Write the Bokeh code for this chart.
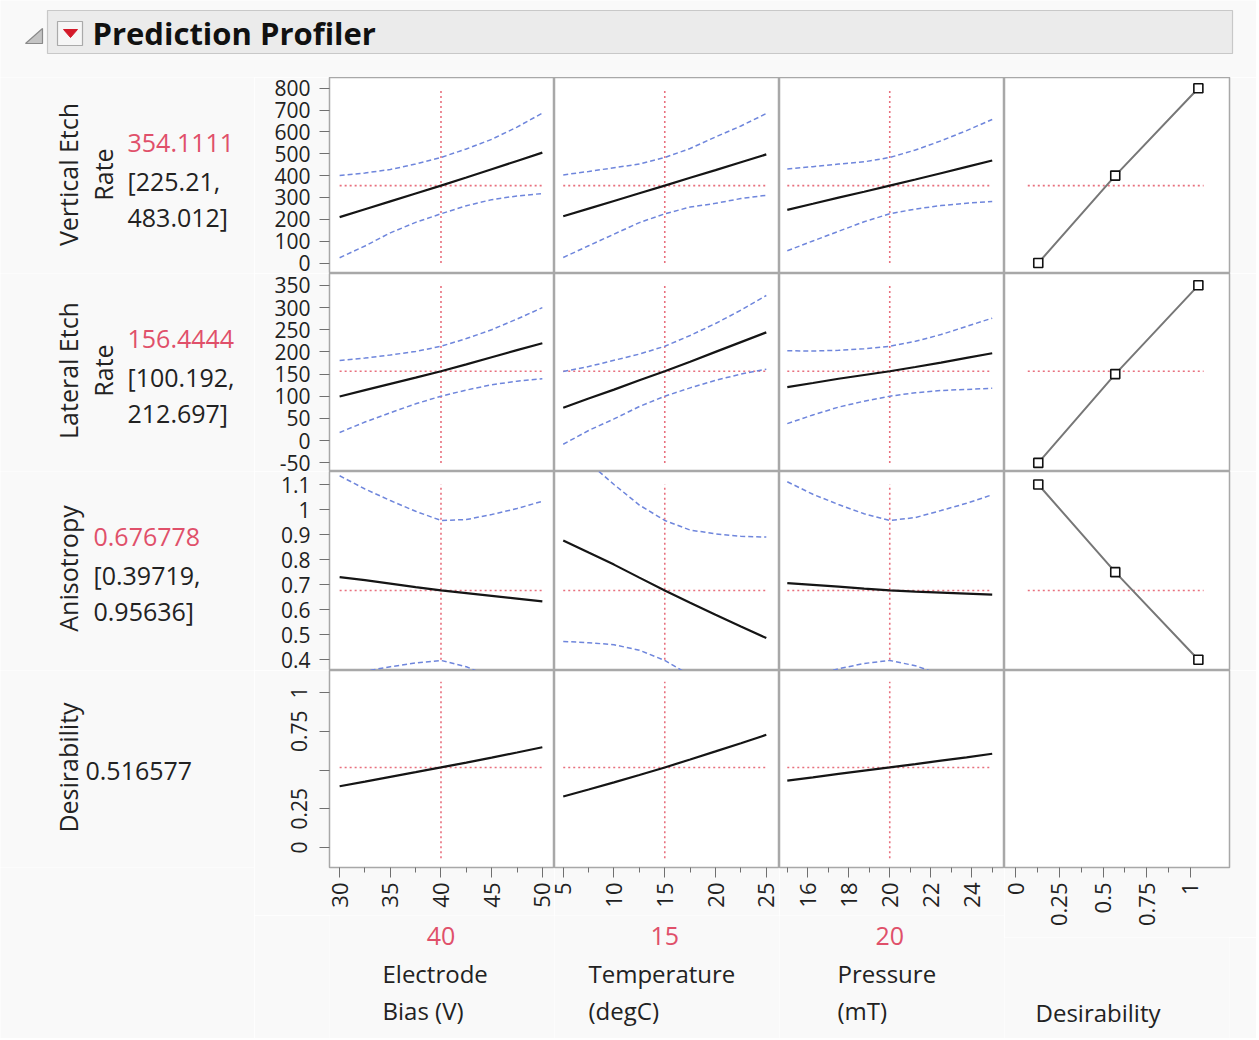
from math import pi
from bokeh.plotting import figure
from bokeh.layouts import column, row
from bokeh.models import FixedTicker, Range1d
from bokeh.embed import file_html
from bokeh.resources import INLINE
from bokeh.core.properties import value

FONT = "Open Sans"
RED = "#e0506a"
REDLINE = "#e8707e"
BLUE = "#6f86dc"
BG = "#f9f9f9"
GRID = "#a8a8a8"

# ---------------- data ----------------
factor_lines = [["Electrode", "Bias (V)"], ["Temperature", "(degC)"], ["Pressure", "(mT)"]]
factor_current = [40, 15, 20]
bias_x = [30, 32.5, 35, 37.5, 40, 42.5, 45, 47.5, 50]
temp_x = [5, 7.5, 10, 12.5, 15, 17.5, 20, 22.5, 25]
pres_x = [15, 16.25, 17.5, 18.75, 20, 21.25, 22.5, 23.75, 25]

resp_titles = [["Vertical Etch", "Rate"], ["Lateral Etch", "Rate"], ["Anisotropy"], ["Desirability"]]
resp_current = [354.1111, 156.4444, 0.676778, 0.516577]
resp_current_text = ["354.1111", "156.4444", "0.676778", "0.516577"]
resp_ci_text = [["[225.21,", "483.012]"], ["[100.192,", "212.697]"], ["[0.39719,", "0.95636]"], []]

# Vertical Etch Rate
vert_bias_pred = [210, 246, 282, 318, 354.1, 391, 429, 467, 505]
vert_bias_hi = [400, 412, 428, 453, 483.0, 522, 566, 622, 686]
vert_bias_lo = [24, 78, 138, 186, 225.2, 262, 290, 307, 318]
vert_temp_pred = [214, 249, 284, 319, 354.1, 390, 425, 461, 497]
vert_temp_hi = [403, 419, 436, 453, 483.0, 524, 577, 627, 684]
vert_temp_lo = [25, 79, 132, 185, 225.2, 256, 273, 295, 310]
vert_pres_pred = [243, 271, 299.5, 326, 354.1, 382, 411, 440, 469]
vert_pres_hi = [430, 441, 453, 463, 483.0, 517, 559, 606, 657]
vert_pres_lo = [56, 101, 145, 189, 225.2, 247, 263, 274, 281]

# Lateral Etch Rate
lat_bias_pred = [99.5, 114, 128, 142, 156.4, 172, 188, 204, 219.6]
lat_bias_hi = [180.5, 186, 193, 201, 212.7, 230, 250, 274, 299.6]
lat_bias_lo = [18.5, 42, 63, 83, 100.2, 114, 126, 134, 139.6]
lat_temp_pred = [74, 95, 115, 136, 156.4, 178, 200, 222, 244]
lat_temp_hi = [156, 167, 181, 195, 212.7, 237, 264, 294, 327]
lat_temp_lo = [-8, 23, 49, 77, 100.2, 119, 136, 150, 161]
lat_pres_pred = [120.5, 130, 139.6, 148, 156.4, 166, 176, 186.5, 197]
lat_pres_hi = [202.5, 202, 203.6, 207, 212.7, 224, 239, 257.5, 276]
lat_pres_lo = [38.5, 58, 75.6, 89, 100.2, 108, 113, 115.5, 118]

# Anisotropy
ani_bias_pred = [0.730, 0.718, 0.704, 0.690, 0.6768, 0.666, 0.655, 0.644, 0.633]
ani_bias_hi = [1.135, 1.082, 1.036, 0.993, 0.9564, 0.96, 0.98, 1.004, 1.033]
ani_bias_lo = [0.325, 0.354, 0.372, 0.387, 0.3972, 0.372, 0.33, 0.284, 0.233]
ani_temp_pred = [0.8766, 0.828, 0.78, 0.728, 0.6768, 0.628, 0.58, 0.533, 0.4866]
ani_temp_hi = [1.281, 1.188, 1.10, 1.018, 0.9564, 0.918, 0.903, 0.893, 0.890]
ani_temp_lo = [0.473, 0.468, 0.46, 0.438, 0.3972, 0.338, 0.257, 0.173, 0.084]
ani_pres_pred = [0.706, 0.699, 0.692, 0.684, 0.6768, 0.672, 0.668, 0.664, 0.66]
ani_pres_hi = [1.111, 1.061, 1.02, 0.983, 0.9564, 0.968, 0.996, 1.025, 1.059]
ani_pres_lo = [0.301, 0.337, 0.364, 0.385, 0.3972, 0.376, 0.34, 0.303, 0.261]

# Desirability
des_bias = [0.395, 0.425, 0.456, 0.486, 0.5166, 0.548, 0.58, 0.613, 0.647]
des_temp = [0.329, 0.374, 0.42, 0.468, 0.5166, 0.568, 0.62, 0.673, 0.727]
des_pres = [0.432, 0.453, 0.475, 0.496, 0.5166, 0.538, 0.56, 0.582, 0.605]

# Desirability functions (desirability vs response value)
des_fn_x = [0.13, 0.57, 1.045]
vert_des_resp = [0, 400, 800]
lat_des_resp = [-50, 150, 350]
ani_des_resp = [1.1, 0.75, 0.4]
des_fn_span = [0.07, 1.075]

# extent of the red cursor lines along each response axis
cursor_span = [[0, 800], [-50, 350], [0.4, 1.1], [-0.07, 1.07]]

# tick labels
vert_ticks = [0, 100, 200, 300, 400, 500, 600, 700, 800]
lat_ticks = [-50, 0, 50, 100, 150, 200, 250, 300, 350]
ani_ticks = [0.4, 0.5, 0.6, 0.7, 0.8, 0.9, 1.0, 1.1]
des_ticks = [0, 0.25, 0.5, 0.75, 1]
des_hidden = [0.5]
bias_ticks = [30, 35, 40, 45, 50]
bias_minor = [32.5, 37.5, 42.5, 47.5]
temp_ticks = [5, 10, 15, 20, 25]
temp_minor = [7.5, 12.5, 17.5, 22.5]
pres_ticks = [16, 18, 20, 22, 24]
pres_minor = [15, 17, 19, 21, 23, 25]
desx_ticks = [0, 0.25, 0.5, 0.75, 1]
desx_minor = [0.125, 0.375, 0.625, 0.875]

# ---------------- layout constants ----------------
TOTAL_W = 1256
TOTAL_H = 1038
HEADER_H = 77
SIDE_W = 254
AXIS_W = 75
COL_W = 225
RIGHT_PAD = 27
ROW_H = [196, 198, 199, 197]
X_BORDER = [48, 48, 48, 70]
X_RANGES = [(29.0, 51.2), (4.14, 26.3), (14.62, 25.6), (-0.063, 1.223)]
Y_RANGES = [(-48, 849), (-69.4, 376.6), (0.357, 1.152), (-0.129, 1.142)]
GRID_BOTTOM = HEADER_H + sum(ROW_H)


def fmt(t):
    return f"{t:g}"


def base_fig(w, h, xr, yr, left=0, right=0, bottom=0, bg=BG, outline=None, xaxis=False, yaxis=False):
    p = figure(width=w, height=h, x_range=Range1d(*xr), y_range=Range1d(*yr),
               toolbar_location=None, output_backend="svg",
               x_axis_location="below" if xaxis else None,
               y_axis_location="left" if yaxis else None,
               min_border=0, min_border_left=left, min_border_right=right,
               min_border_top=0, min_border_bottom=bottom,
               background_fill_color=bg, border_fill_color=BG,
               outline_line_color=outline, outline_line_width=1.5)
    p.grid.visible = False
    return p


def style_y(p, ticks, hidden=(), vertical=False):
    ax = p.yaxis[0]
    ax.ticker = FixedTicker(ticks=ticks)
    ax.major_label_overrides = {t: ("" if t in hidden else fmt(t)) for t in ticks}
    ax.major_tick_out = 10
    ax.major_tick_in = 0
    ax.minor_tick_line_color = None
    ax.axis_line_color = GRID
    ax.major_tick_line_color = "#707070"
    ax.major_label_text_font = FONT
    ax.major_label_text_font_size = "21px"
    ax.major_label_text_color = "#222222"
    ax.major_label_standoff = 9
    if vertical:
        ax.major_label_orientation = "vertical"
        ax.major_label_standoff = 12


def style_x(p, ticks, minor):
    ax = p.xaxis[0]
    ax.ticker = FixedTicker(ticks=ticks, minor_ticks=minor)
    ax.major_label_overrides = {t: fmt(t) for t in ticks}
    ax.major_label_orientation = pi / 2
    ax.major_tick_out = 10
    ax.major_tick_in = 0
    ax.minor_tick_out = 5
    ax.minor_tick_in = 0
    ax.axis_line_color = GRID
    ax.major_tick_line_color = "#707070"
    ax.minor_tick_line_color = "#707070"
    ax.major_label_text_font = FONT
    ax.major_label_text_font_size = "22px"
    ax.major_label_text_color = "#222222"
    ax.major_label_standoff = 5


def txt(p, x, y, s, color="#222222", size="25px", align="left", angle=0.0, bold=False):
    p.text(x=[x], y=[y], text=[s], text_font=value(FONT), text_font_size=size,
           text_color=color, text_align=align, text_baseline="middle", angle=angle,
           text_font_style="bold" if bold else "normal")


factor_x = [bias_x, temp_x, pres_x]
curves = [
    [(vert_bias_pred, vert_bias_hi, vert_bias_lo), (vert_temp_pred, vert_temp_hi, vert_temp_lo),
     (vert_pres_pred, vert_pres_hi, vert_pres_lo)],
    [(lat_bias_pred, lat_bias_hi, lat_bias_lo), (lat_temp_pred, lat_temp_hi, lat_temp_lo),
     (lat_pres_pred, lat_pres_hi, lat_pres_lo)],
    [(ani_bias_pred, ani_bias_hi, ani_bias_lo), (ani_temp_pred, ani_temp_hi, ani_temp_lo),
     (ani_pres_pred, ani_pres_hi, ani_pres_lo)],
    [(des_bias, None, None), (des_temp, None, None), (des_pres, None, None)],
]
des_resp = [vert_des_resp, lat_des_resp, ani_des_resp]
y_ticks = [vert_ticks, lat_ticks, ani_ticks, des_ticks]
x_ticks = [(bias_ticks, bias_minor), (temp_ticks, temp_minor), (pres_ticks, pres_minor),
           (desx_ticks, desx_minor)]

# ---------------- side labels column ----------------
side_col = []
for ri in range(4):
    h = ROW_H[ri]
    s = base_fig(SIDE_W, h, (0, SIDE_W), (0, h))
    t = resp_titles[ri]
    txt(s, 67.5, h - 97, t[0], align="center", angle=pi / 2)
    if len(t) > 1:
        txt(s, 102, h - 97, t[1], align="center", angle=pi / 2)
    if ri < 3:
        xv = 127 if len(t) > 1 else 93
        txt(s, xv, h - 65, resp_current_text[ri], color=RED)
        txt(s, xv, h - 103, resp_ci_text[ri][0])
        txt(s, xv, h - 139, resp_ci_text[ri][1])
    else:
        txt(s, 85, h - 100, resp_current_text[ri])
    side_col.append(s)
side_col.append(base_fig(SIDE_W, TOTAL_H - GRID_BOTTOM, (0, 1), (0, 1)))

# ---------------- panel columns ----------------
panel_cols = []
for ci in range(4):
    left = AXIS_W if ci == 0 else 0
    right = RIGHT_PAD if ci == 3 else 0
    w = COL_W + left + right
    figs = []
    for ri in range(4):
        bottom = X_BORDER[ci] if ri == 3 else 0
        p = base_fig(w, ROW_H[ri] + bottom, X_RANGES[ci], Y_RANGES[ri], left=left, right=right,
                     bottom=bottom, bg="white", outline=GRID, xaxis=(ri == 3), yaxis=(ci == 0))
        cur = resp_current[ri]
        if ci < 3:
            xs = factor_x[ci]
            pred, hi, lo = curves[ri][ci]
            p.line([xs[0], xs[-1]], [cur, cur], line_color=REDLINE, line_width=1.6, line_dash="2 3")
            p.line([factor_current[ci]] * 2, cursor_span[ri], line_color=REDLINE,
                   line_width=1.6, line_dash="2 3")
            if hi is not None:
                p.line(xs, hi, line_color=BLUE, line_width=1.5, line_dash="5 3")
                p.line(xs, lo, line_color=BLUE, line_width=1.5, line_dash="5 3")
            p.line(xs, pred, line_color="#151515", line_width=2.2)
        elif ri < 3:
            p.line(des_fn_span, [cur, cur], line_color=REDLINE, line_width=1.6, line_dash="2 3")
            p.line(des_fn_x, des_resp[ri], line_color="#777777", line_width=2)
            p.scatter(des_fn_x, des_resp[ri], marker="square", size=9,
                      fill_color="white", line_color="#111111", line_width=1.6)
        if ci == 0:
            style_y(p, y_ticks[ri], hidden=des_hidden if ri == 3 else (), vertical=(ri == 3))
        if ri == 3:
            style_x(p, *x_ticks[ci])
        figs.append(p)
    # bottom label strip for this column
    lh = TOTAL_H - GRID_BOTTOM - X_BORDER[ci]
    xr = X_RANGES[ci]
    lf = base_fig(w, lh, xr, (0, lh), left=left, right=right)
    per_px = (xr[1] - xr[0]) / COL_W
    if ci < 3:
        txt(lf, factor_current[ci], lh - 20, fmt(factor_current[ci]), color=RED, align="center")
        x0 = xr[0] + [53, 34, 58][ci] * per_px
        txt(lf, x0, lh - 58, factor_lines[ci][0], size="24px")
        txt(lf, x0, lh - 95, factor_lines[ci][1], size="24px")
    else:
        txt(lf, xr[0] + 31 * per_px, lh - 75, "Desirability", size="24px")
    figs.append(lf)
    panel_cols.append(column(*figs, spacing=0))

# ---------------- header ----------------
hdr = base_fig(TOTAL_W, HEADER_H, (0, TOTAL_W), (HEADER_H, 0))
hdr.quad(left=47, right=1232, top=10, bottom=53, fill_color="#ebebeb", line_color="#c8c8c8", line_width=1.2)
hdr.patch([25, 42, 42], [43, 28, 43], fill_color="#c4c4c4", line_color="#8a8a8a", line_width=1.2)
hdr.quad(left=57, right=82, top=21, bottom=45, fill_color="#f6f6f6", line_color="#aaaaaa", line_width=1.2)
hdr.patch([63, 77, 70], [29, 29, 37], fill_color="#d41a2a", line_color="#d41a2a")
txt(hdr, 92, 32, "Prediction Profiler", color="#111111", size="31px", bold=True)

layout = column(hdr, row(column(*side_col, spacing=0), *panel_cols, spacing=0), spacing=0)
open("out.html", "w").write(file_html(layout, INLINE))
